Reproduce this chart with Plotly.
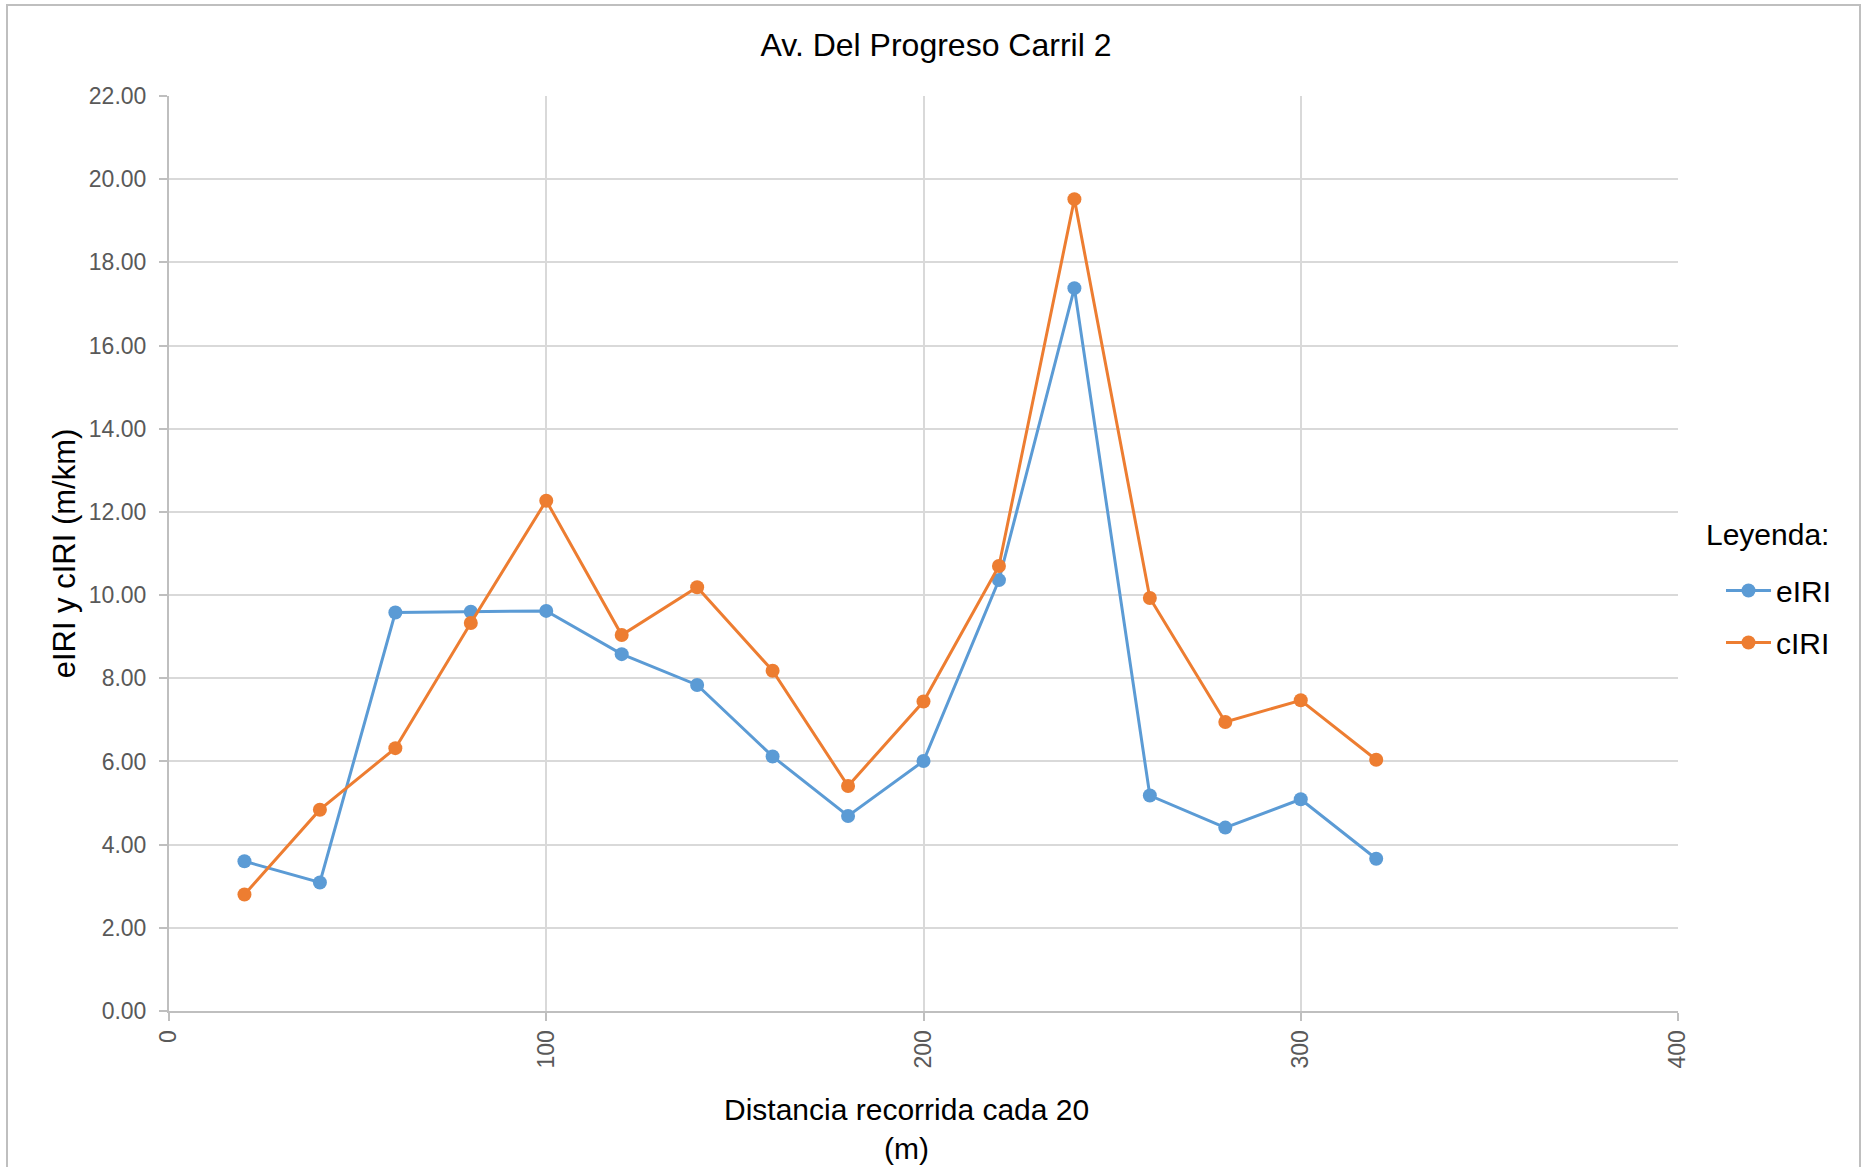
import plotly.graph_objects as go

distancia = [20, 40, 60, 80, 100, 120, 140, 160, 180, 200, 220, 240, 260, 280, 300, 320]
eiri = [3.60, 3.09, 9.58, 9.60, 9.62, 8.58, 7.84, 6.12, 4.69, 6.01, 10.36, 17.38, 5.18, 4.41, 5.09, 3.66]
ciri = [2.80, 4.84, 6.32, 9.33, 12.27, 9.04, 10.19, 8.18, 5.41, 7.44, 10.70, 19.52, 9.93, 6.95, 7.47, 6.04]

W, H = 1865, 1167
ml, mr, mt, mb = 169, 187, 96, 156
pw = W - ml - mr
ph = H - mt - mb

font_family = "Liberation Sans, Arial, sans-serif"

def px_x(x):
    return (x - ml) / pw

def px_y(y):
    return (H - mb - y) / ph

fig = go.Figure()
fig.add_trace(go.Scatter(x=distancia, y=eiri, name="eIRI", mode="lines+markers", legendgroup="a",
                         line=dict(color="#5B9BD5", width=3),
                         marker=dict(color="#5B9BD5", size=14)))
fig.add_trace(go.Scatter(x=distancia, y=ciri, name="cIRI", mode="lines+markers", legendgroup="b",
                         line=dict(color="#ED7D31", width=3),
                         marker=dict(color="#ED7D31", size=14)))

fig.update_layout(
    width=W, height=H,
    margin=dict(l=ml, r=mr, t=mt, b=mb, autoexpand=False),
    paper_bgcolor="white", plot_bgcolor="white",
    font=dict(family=font_family, color="#000000"),
    title=dict(text="Av. Del Progreso Carril 2", x=px_x(936), xref="paper", xanchor="center",
               y=1 - 45 / H, yanchor="middle", font=dict(size=32, color="#000000")),
    showlegend=True,
    legend=dict(x=px_x(1721), xanchor="left", y=px_y(616.5), yanchor="middle",
                font=dict(size=30), itemwidth=45, tracegroupgap=10,
                traceorder="grouped",
                bgcolor="rgba(0,0,0,0)"),
    xaxis=dict(range=[0, 400], tickvals=[0, 100, 200, 300, 400], tickangle=-90,
               showgrid=True, gridcolor="#d9d9d9", gridwidth=1.5,
               showline=True, linecolor="#bfbfbf", linewidth=2,
               ticks="outside", ticklen=8, tickcolor="#bfbfbf", tickwidth=1.5,
               tickfont=dict(size=23, color="#595959"),
               zeroline=False),
    yaxis=dict(range=[0, 22], tickvals=[0, 2, 4, 6, 8, 10, 12, 14, 16, 18, 20, 22],
               tickformat=".2f",
               showgrid=True, gridcolor="#d9d9d9", gridwidth=1.5,
               showline=True, linecolor="#bfbfbf", linewidth=2,
               ticks="outside", ticklen=8, tickcolor="#bfbfbf", tickwidth=1.5,
               ticklabelstandoff=8,
               tickfont=dict(size=23, color="#595959"),
               zeroline=False,
               title=dict(text="eIRI y cIRI (m/km)", font=dict(size=31, color="#000000"),
                          standoff=4)),
)

fig.add_annotation(text="Distancia recorrida cada 20<br>(m)", xref="paper", yref="paper",
                   x=px_x(906), y=px_y(1128.5), xanchor="center", yanchor="middle",
                   showarrow=False, align="center", font=dict(size=30, color="#000000"))
fig.add_annotation(text="Leyenda:", xref="paper", yref="paper",
                   x=px_x(1704), y=px_y(534), xanchor="left", yanchor="middle",
                   showarrow=False, font=dict(size=30, color="#000000"))

fig.add_shape(type="rect", xref="paper", yref="paper",
              x0=px_x(7), x1=px_x(1860),
              y0=px_y(1220), y1=px_y(5),
              line=dict(color="#bfbfbf", width=2), fillcolor="rgba(0,0,0,0)", layer="below")

fig.write_html("out.html", config={"displayModeBar": False},
               post_script="document.body.style.margin='0px';document.body.style.overflow='hidden';")
